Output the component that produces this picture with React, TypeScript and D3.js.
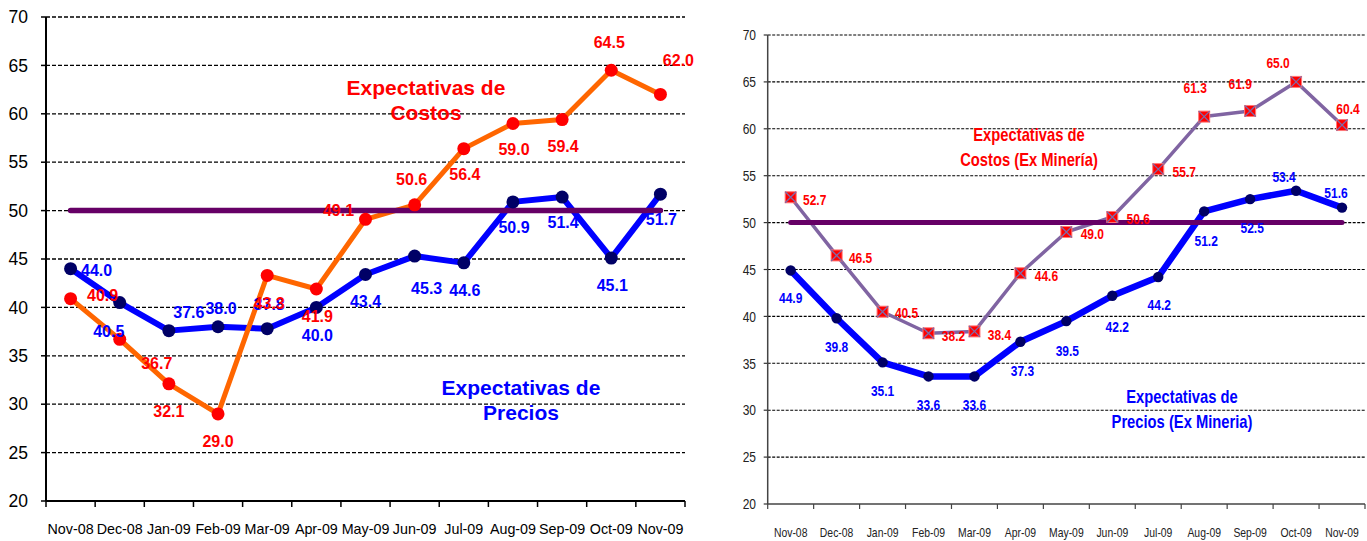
import React from "react";
import * as d3 from "d3";

const months = ["Nov-08","Dec-08","Jan-09","Feb-09","Mar-09","Apr-09","May-09","Jun-09","Jul-09","Aug-09","Sep-09","Oct-09","Nov-09"];
const yTicks = [20,25,30,35,40,45,50,55,60,65,70];
const threshold = 50;

// Left chart
const preciosLeft = [44.0,40.5,37.6,38.0,37.8,40.0,43.4,45.3,44.6,50.9,51.4,45.1,51.7];
const costosLeft = [40.9,36.7,32.1,29.0,43.3,41.9,49.1,50.6,56.4,59.0,59.4,64.5,62.0];
// Right chart
const preciosRight = [44.9,39.8,35.1,33.6,33.6,37.3,39.5,42.2,44.2,51.2,52.5,53.4,51.6];
const costosRight = [52.7,46.5,40.5,38.2,38.4,44.6,49.0,50.6,55.7,61.3,61.9,65.0,60.4];

// label offsets (positions, kept apart from data)
const offPL = [[26,2],[-11,29],[20,-18],[3,-18],[2,-24],[1,28],[0,27],[12,32],[1,28],[1,26],[1,25],[1,27],[1,25]];
const offCL = [[32,-3],[37,24],[0,28],[0,28],[2,28],[1,27],[-27,-9],[-3,-25],[1,26],[1,26],[1,27],[-2,-28],[18,-34]];
const offPR = [[0,27],[0,28],[0,28],[0,28],[0,28],[2,29],[1,30],[5,31],[1,28],[2,29],[2,29],[-12,-14],[-6,-15]];
const offCR = [[24,2],[24,2],[24,1],[25,2],[25,3],[26,2],[26,2],[26,2],[26,3],[-9,-29],[-10,-27],[-18,-19],[6,-16]];

const FONT = "'Liberation Sans', Arial, Helvetica, sans-serif";

function LeftChart() {
  const x = d3.scaleBand<string>().domain(months).range([46, 685]).padding(0);
  const y = d3.scaleLinear().domain([20, 70]).range([501, 17]);
  const cx = (i: number) => (x(months[i]) as number) + x.bandwidth() / 2;
  const line = d3.line<number>().x((_, i) => cx(i)).y((d) => y(d));
  const x0 = 46, x1 = 685;
  return (
    <g fontFamily={FONT}>
      {yTicks.filter((t) => t > 20).map((t) => (
        <line key={"g" + t} x1={x0} x2={x1} y1={y(t)} y2={y(t)} stroke="#000" strokeWidth={1.3} strokeDasharray="4,2" />
      ))}
      {yTicks.map((t) => (
        <g key={"yt" + t}>
          <line x1={x0 - 5} x2={x0} y1={y(t)} y2={y(t)} stroke="#000" strokeWidth={1.5} />
          <text x={28} y={y(t)} dy="0.35em" textAnchor="end" fontSize={17.5} fill="#000">{t}</text>
        </g>
      ))}
      <line x1={x0} x2={x0} y1={y(70)} y2={y(20)} stroke="#000" strokeWidth={2} />
      <line x1={x0} x2={x1} y1={y(20)} y2={y(20)} stroke="#000" strokeWidth={2} />
      {d3.range(months.length + 1).map((i) => {
        const xx = x0 + i * x.bandwidth();
        return <line key={"xt" + i} x1={xx} x2={xx} y1={y(20)} y2={y(20) + 6} stroke="#000" strokeWidth={1.5} />;
      })}
      {months.map((m, i) => (
        <text key={"xl" + m} x={cx(i)} y={529} dy="0.35em" textAnchor="middle" fontSize={14.3} fill="#000">{m}</text>
      ))}
      <path d={line(preciosLeft) || ""} fill="none" stroke="#0000ff" strokeWidth={6} strokeLinejoin="round" />
      <path d={line(costosLeft) || ""} fill="none" stroke="#ff6600" strokeWidth={5} strokeLinejoin="round" />
      <line x1={cx(0)} x2={cx(12)} y1={y(threshold)} y2={y(threshold)} stroke="#660066" strokeWidth={5.5} strokeLinecap="round" />
      {preciosLeft.map((v, i) => (
        <circle key={"pm" + i} cx={cx(i)} cy={y(v)} r={6.5} fill="#000066" />
      ))}
      {costosLeft.map((v, i) => (
        <circle key={"cm" + i} cx={cx(i)} cy={y(v)} r={6.5} fill="#ff0000" />
      ))}
      {preciosLeft.map((v, i) => (
        <text key={"pl" + i} x={cx(i) + offPL[i][0]} y={y(v) + offPL[i][1]} dy="0.35em" textAnchor="middle" fontSize={16} fontWeight="bold" fill="#0000ff">{v.toFixed(1)}</text>
      ))}
      {costosLeft.map((v, i) => (
        <text key={"cl" + i} x={cx(i) + offCL[i][0]} y={y(v) + offCL[i][1]} dy="0.35em" textAnchor="middle" fontSize={16} fontWeight="bold" fill="#ff0000">{v.toFixed(1)}</text>
      ))}
      <text x={426} y={88} dy="0.35em" textAnchor="middle" fontSize={21} fontWeight="bold" fill="#ff0000">Expectativas de</text>
      <text x={426} y={113} dy="0.35em" textAnchor="middle" fontSize={21} fontWeight="bold" fill="#ff0000">Costos</text>
      <text x={521} y={388} dy="0.35em" textAnchor="middle" fontSize={21} fontWeight="bold" fill="#0000ff">Expectativas de</text>
      <text x={521} y={413} dy="0.35em" textAnchor="middle" fontSize={21} fontWeight="bold" fill="#0000ff">Precios</text>
    </g>
  );
}

function CText(props: { x: number; y: number; size: number; fill: string; bold?: boolean; anchor?: string; sx?: number; children: React.ReactNode }) {
  const { x, y, size, fill, bold, anchor, sx, children } = props;
  return (
    <text transform={`translate(${x},${y}) scale(${sx ?? 0.8},1)`} dy="0.35em" textAnchor={anchor ?? "middle"} fontSize={size} fontWeight={bold ? "bold" : "normal"} fill={fill}>
      {children}
    </text>
  );
}

function RightChart() {
  const x = d3.scaleBand<string>().domain(months).range([767.7, 1365]).padding(0);
  const y = d3.scaleLinear().domain([20, 70]).range([504, 35]);
  const cx = (i: number) => (x(months[i]) as number) + x.bandwidth() / 2;
  const line = d3.line<number>().x((_, i) => cx(i)).y((d) => y(d));
  const x0 = 767.7, x1 = 1365;
  const s = 5.5;
  return (
    <g fontFamily={FONT}>
      {yTicks.filter((t) => t > 20).map((t) => (
        <line key={"g" + t} x1={x0} x2={x1} y1={y(t)} y2={y(t)} stroke="#000" strokeWidth={1.1} strokeDasharray="3,1.5" />
      ))}
      {yTicks.map((t) => (
        <g key={"yt" + t}>
          <line x1={x0 - 4} x2={x0} y1={y(t)} y2={y(t)} stroke="#333" strokeWidth={1.2} />
          <CText x={756} y={y(t)} size={15} fill="#222" anchor="end">{t}</CText>
        </g>
      ))}
      <line x1={x0} x2={x0} y1={y(70)} y2={y(20)} stroke="#444" strokeWidth={1.5} />
      <line x1={x0} x2={x1} y1={y(20)} y2={y(20)} stroke="#444" strokeWidth={1.5} />
      {d3.range(months.length + 1).map((i) => {
        const xx = x0 + i * x.bandwidth();
        return <line key={"xt" + i} x1={xx} x2={xx} y1={y(20)} y2={y(20) + 5} stroke="#444" strokeWidth={1.2} />;
      })}
      {months.map((m, i) => (
        <CText key={"xl" + m} x={cx(i)} y={532} size={13} fill="#222">{m}</CText>
      ))}
      <path d={line(preciosRight) || ""} fill="none" stroke="#0000ff" strokeWidth={6.5} strokeLinejoin="round" />
      <path d={line(costosRight) || ""} fill="none" stroke="#8064a2" strokeWidth={3.5} strokeLinejoin="round" />
      <line x1={cx(0)} x2={cx(12)} y1={y(threshold)} y2={y(threshold)} stroke="#660066" strokeWidth={5} strokeLinecap="round" />
      {preciosRight.map((v, i) => (
        <circle key={"pm" + i} cx={cx(i)} cy={y(v)} r={5.2} fill="#000066" />
      ))}
      {costosRight.map((v, i) => (
        <g key={"cm" + i}>
          <rect x={cx(i) - s} y={y(v) - s} width={2 * s} height={2 * s} fill="#ff0000" stroke="#ff7777" strokeWidth={1} />
          <path d={`M${cx(i) - s},${y(v) - s}L${cx(i) + s},${y(v) + s}M${cx(i) + s},${y(v) - s}L${cx(i) - s},${y(v) + s}`} stroke="#7f6aa8" strokeWidth={1.3} />
        </g>
      ))}
      {preciosRight.map((v, i) => (
        <CText key={"pl" + i} x={cx(i) + offPR[i][0]} y={y(v) + offPR[i][1]} size={15} bold fill="#0000ff">{v.toFixed(1)}</CText>
      ))}
      {costosRight.map((v, i) => (
        <CText key={"cl" + i} x={cx(i) + offCR[i][0]} y={y(v) + offCR[i][1]} size={15} bold fill="#ff0000">{v.toFixed(1)}</CText>
      ))}
      <CText x={1029} y={135} size={18} bold fill="#ff0000" sx={0.82}>Expectativas de</CText>
      <CText x={1029} y={160} size={18} bold fill="#ff0000" sx={0.82}>Costos (Ex Minería)</CText>
      <CText x={1182} y={397} size={18} bold fill="#0000ff" sx={0.82}>Expectativas de</CText>
      <CText x={1182} y={422} size={18} bold fill="#0000ff" sx={0.82}>Precios (Ex Mineria)</CText>
    </g>
  );
}

export default function App() {
  return (
    <svg width={1367} height={541} style={{ position: "absolute", left: 0, top: 0, background: "#fff" }}>
      <rect width={1367} height={541} fill="#fff" />
      <LeftChart />
      <RightChart />
    </svg>
  );
}
